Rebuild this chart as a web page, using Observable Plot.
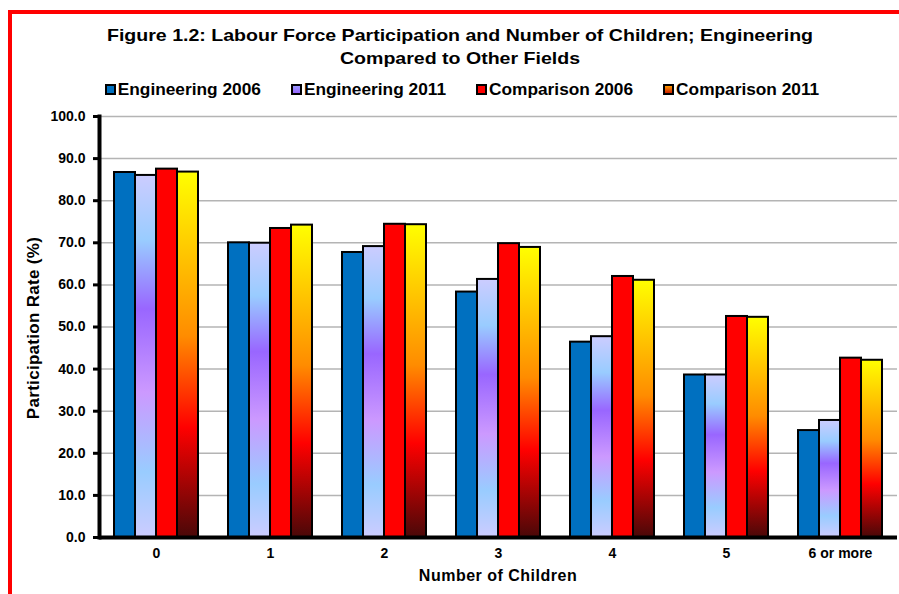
<!DOCTYPE html>
<html>
<head>
<meta charset="utf-8">
<script src="https://cdn.jsdelivr.net/npm/d3@7"></script>
<script src="https://cdn.jsdelivr.net/npm/@observablehq/plot@0.6"></script>
<style>
  html, body { margin: 0; padding: 0; background: #fff; }
  body { font-family: "Liberation Sans", Arial, sans-serif; color: #000; }
  #wrap { position: relative; width: 899px; height: 594px; overflow: hidden; background: #fff; }
  #frame { position: absolute; left: 8px; top: 10px; width: 1000px; height: 1000px; border: 4px solid #ff0000; box-sizing: border-box; }
  #title { position: absolute; left: 0; top: 24px; width: 920px; text-align: center; font-weight: bold; font-size: 17px; line-height: 23px; transform: scaleX(1.15); transform-origin: 460px 0; }
  #legend { position: absolute; left: 0; top: 80px; width: 924px; display: flex; justify-content: center; gap: 30px; font-weight: bold; font-size: 17.3px; line-height: 18px; }
  .item { display: flex; align-items: center; gap: 2px; white-space: nowrap; }
  .sw { width: 11px; height: 11px; border: 2px solid #000; box-sizing: border-box; margin-top: 1px; }
  #chart { position: absolute; left: 0; top: 105px; }
  #ytitle { position: absolute; left: 34px; top: 328px; transform: translate(-50%, -50%) rotate(-90deg); font-weight: bold; font-size: 17px; white-space: nowrap; letter-spacing: 0.3px; }
  #xtitle { position: absolute; left: 498px; top: 567px; transform: translateX(-50%); font-weight: bold; font-size: 16px; white-space: nowrap; letter-spacing: 0.5px; }
</style>
</head>
<body>
<div id="wrap">
  <div id="frame"></div>
  <div id="title"></div>
  <div id="legend"></div>
  <div id="chart"></div>
  <div id="ytitle"></div>
  <div id="xtitle"></div>
</div>
<script>
// ---- Data ----
const titleLines = ["Figure 1.2: Labour Force Participation and Number of Children; Engineering", "Compared to Other Fields"];
const yTitle = "Participation Rate (%)";
const xTitle = "Number of Children";
const categories = ["0", "1", "2", "3", "4", "5", "6 or more"];
const series = ["Engineering 2006", "Engineering 2011", "Comparison 2006", "Comparison 2011"];
const eng2006  = [86.7, 70.0, 67.7, 58.3, 46.4, 38.6, 25.4];
const eng2011  = [86.0, 69.9, 69.1, 61.3, 47.7, 38.6, 27.8];
const comp2006 = [87.5, 73.4, 74.4, 69.8, 62.0, 52.5, 42.6];
const comp2011 = [86.8, 74.2, 74.3, 68.9, 61.1, 52.3, 42.1];
const yTicks = [0, 10, 20, 30, 40, 50, 60, 70, 80, 90, 100];

// ---- Styles ----
const eng11Stops = [[0, "#CCCCFF"], [0.18, "#99CCFF"], [0.37, "#9966FF"], [0.6, "#CC99FF"], [0.82, "#99CCFF"], [1, "#CCCCFF"]];
const comp11Stops = [[0, "#FFFF00"], [0.45, "#FF8C00"], [0.7, "#FF0000"], [1, "#4A0808"]];
const fills = ["#0070C0", "url(#gEng11)", "#FF0000", "url(#gComp11)"];
const cssFills = [
  "#0070C0",
  "linear-gradient(#9999FF, #9966FF)",
  "#FF0000",
  "linear-gradient(#FF9900, #CC2200)"
];

const valuesBySeries = [eng2006, eng2011, comp2006, comp2011];
const rows = [];
categories.forEach((c, i) => {
  series.forEach((s, j) => rows.push({category: c, series: s, value: valuesBySeries[j][i]}));
});

// ---- Title & legend ----
document.getElementById("title").innerHTML = titleLines.join("<br>");
const legend = d3.select("#legend");
series.forEach((s, j) => {
  const it = legend.append("div").attr("class", "item");
  it.append("div").attr("class", "sw").style("background", cssFills[j]);
  it.append("span").text(s);
});
document.getElementById("ytitle").textContent = yTitle;
document.getElementById("xtitle").textContent = xTitle;

// ---- Chart ----
const chart = Plot.plot({
  width: 899,
  height: 489,
  marginTop: 11,
  marginBottom: 57,
  marginLeft: 98,
  marginRight: 1,
  style: {fontFamily: "'Liberation Sans', Arial, sans-serif", background: "transparent", color: "#000"},
  fx: {domain: categories, padding: 0, label: null},
  x: {domain: series, paddingInner: 0, paddingOuter: 0.71, axis: null},
  y: {domain: [0, 100], axis: null},
  color: {domain: series, range: fills},
  marks: [
    Plot.ruleY(yTicks, {stroke: "#b4b4b4", strokeWidth: 1.5}),
    Plot.barY(rows, {fx: "category", x: "series", y: "value", fill: "series", stroke: "#000", strokeWidth: 2}),
    Plot.ruleY([0], {stroke: "#000", strokeWidth: 4}),
    Plot.frame({anchor: "left", facetAnchor: "left", stroke: "#000", strokeWidth: 4}),
    Plot.axisY({ticks: yTicks, tickFormat: d => d.toFixed(1), tickSize: 6, tickPadding: 8, stroke: "#000", strokeWidth: 3, fontSize: 14, fontWeight: "bold", label: null}),
    Plot.axisFx({anchor: "bottom", tickSize: 0, tickPadding: 11, fontSize: 14, fontWeight: "bold", label: null})
  ]
});

// gradient definitions for the gradient-filled series
const svg = d3.select(chart.tagName === "svg" ? chart : chart.querySelector("svg"));
const defs = svg.insert("defs", ":first-child");
function addGradient(id, stops) {
  const g = defs.append("linearGradient").attr("id", id).attr("x1", 0).attr("y1", 0).attr("x2", 0).attr("y2", 1);
  stops.forEach(([o, c]) => g.append("stop").attr("offset", o).attr("stop-color", c));
}
addGradient("gEng11", eng11Stops);
addGradient("gComp11", comp11Stops);

document.getElementById("chart").appendChild(chart);
</script>
</body>
</html>
